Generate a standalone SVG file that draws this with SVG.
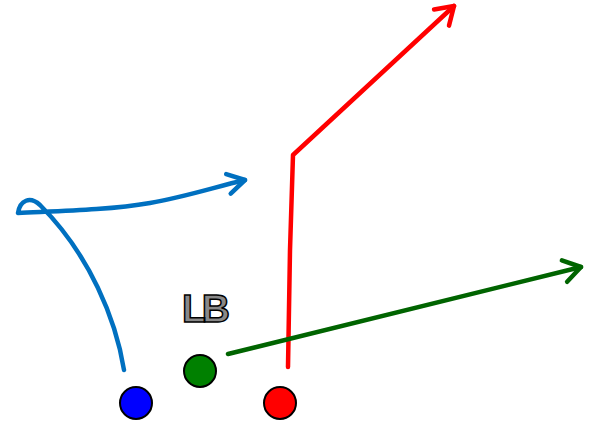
<svg xmlns="http://www.w3.org/2000/svg" width="592" height="425" viewBox="0 0 592 425">
<defs>
<style>
.route{fill:none;stroke-width:4.5;stroke-linecap:round;stroke-linejoin:round}
.player{stroke:#000;stroke-width:2}
.lbl{font-family:"Liberation Sans",Arial,sans-serif;font-size:39px;font-weight:bold;fill:#888;stroke:#000;stroke-width:1.5;letter-spacing:-4px}
</style>
<marker id="abBlue" viewBox="-22 -14 26 28" markerWidth="26" markerHeight="28" refX="0" refY="0" orient="auto" markerUnits="userSpaceOnUse">
<path d="M-17,-10 L0,0 L-17,10" fill="none" stroke="#0070c0" stroke-width="4.5" stroke-linecap="round" stroke-linejoin="round"/>
</marker>
<marker id="abRed" viewBox="-22 -14 26 28" markerWidth="26" markerHeight="28" refX="0" refY="0" orient="auto" markerUnits="userSpaceOnUse">
<path d="M-17,-11 L0,0 L-17,11" fill="none" stroke="#ff0000" stroke-width="4.5" stroke-linecap="round" stroke-linejoin="round"/>
</marker>
<marker id="abGreen" viewBox="-22 -14 26 28" markerWidth="26" markerHeight="28" refX="0" refY="0" orient="auto" markerUnits="userSpaceOnUse">
<path d="M-17,-11 L0,0 L-17,11" fill="none" stroke="#006400" stroke-width="4.5" stroke-linecap="round" stroke-linejoin="round"/>
</marker>
</defs>
<rect width="592" height="425" fill="#fff"/>
<g id="connectors">
<path class="route" stroke="#0070c0" marker-end="url(#abBlue)" d="M124,370 C116,320 90,255 40,205 C30,196 20,200 18,213 C60,211 110,210 150,203 C185,197 215,187 245,180"/>
<path class="route" stroke="#ff0000" marker-end="url(#abRed)" d="M288,367 L290,250 L293,155 L454,6"/>
<path class="route" stroke="#006400" marker-end="url(#abGreen)" d="M228,354 L581,267"/>
</g>
<g id="label-lb"><text class="lbl" x="182" y="322">LB</text></g>
<g id="player-blue"><circle class="player" cx="136" cy="403" r="16" fill="#0000ff"/></g>
<g id="player-green"><circle class="player" cx="200" cy="371" r="16" fill="#008000"/></g>
<g id="player-red"><circle class="player" cx="280" cy="403" r="16" fill="#ff0000"/></g>
</svg>
